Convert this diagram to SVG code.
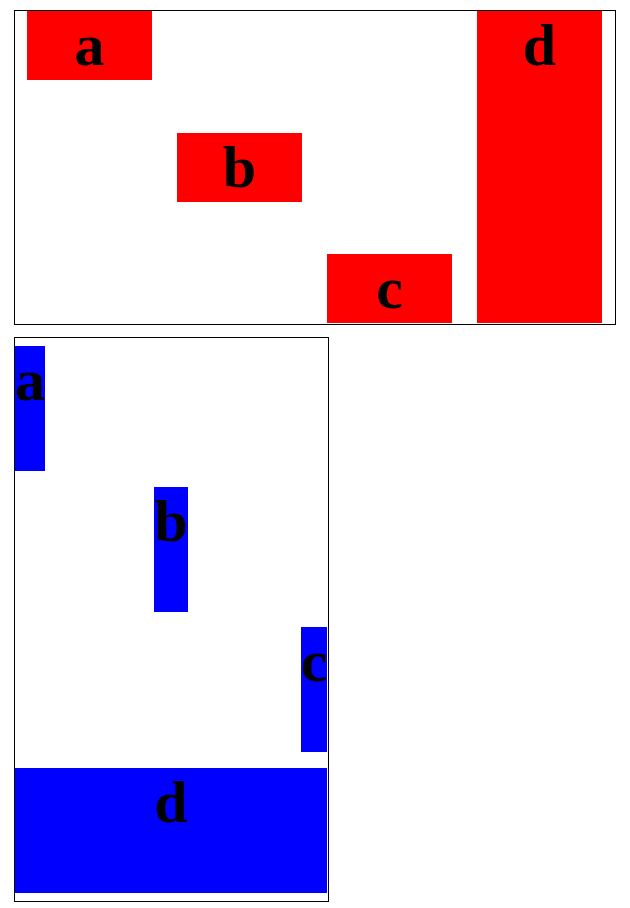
<svg xmlns="http://www.w3.org/2000/svg" width="630" height="908" viewBox="0 0 630 908">
<style>
.frame{fill:none;stroke:#000;stroke-width:1}
.r{fill:#f00}
.b{fill:#00f}
text{font-family:"Liberation Serif","Times New Roman",serif;font-weight:bold;font-size:60px;fill:#000;text-anchor:middle}
</style>
<rect width="630" height="908" fill="#fff"/>
<g id="top">
<rect class="frame" x="14.5" y="10.5" width="601" height="314"/>
<g id="ta"><rect class="r" x="27" y="11" width="125" height="69"/><text x="89.5" y="65">a</text></g>
<g id="tb"><rect class="r" x="177" y="133" width="125" height="69"/><text x="239.5" y="187">b</text></g>
<g id="tc"><rect class="r" x="327" y="254" width="125" height="69"/><text x="389.5" y="308">c</text></g>
<g id="td"><rect class="r" x="477" y="11" width="125" height="312"/><text x="539.5" y="65">d</text></g>
</g>
<g id="bottom">
<rect class="frame" x="14.5" y="337.5" width="314" height="564"/>
<g id="ba"><rect class="b" x="15" y="346" width="30" height="125"/><text x="30" y="400">a</text></g>
<g id="bb"><rect class="b" x="154" y="487" width="34" height="125"/><text x="171" y="541">b</text></g>
<g id="bc"><rect class="b" x="301" y="627" width="26" height="125"/><text x="314" y="681">c</text></g>
<g id="bd"><rect class="b" x="15" y="768" width="312" height="125"/><text x="171" y="822">d</text></g>
</g>
<g id="connectors"/>
</svg>
